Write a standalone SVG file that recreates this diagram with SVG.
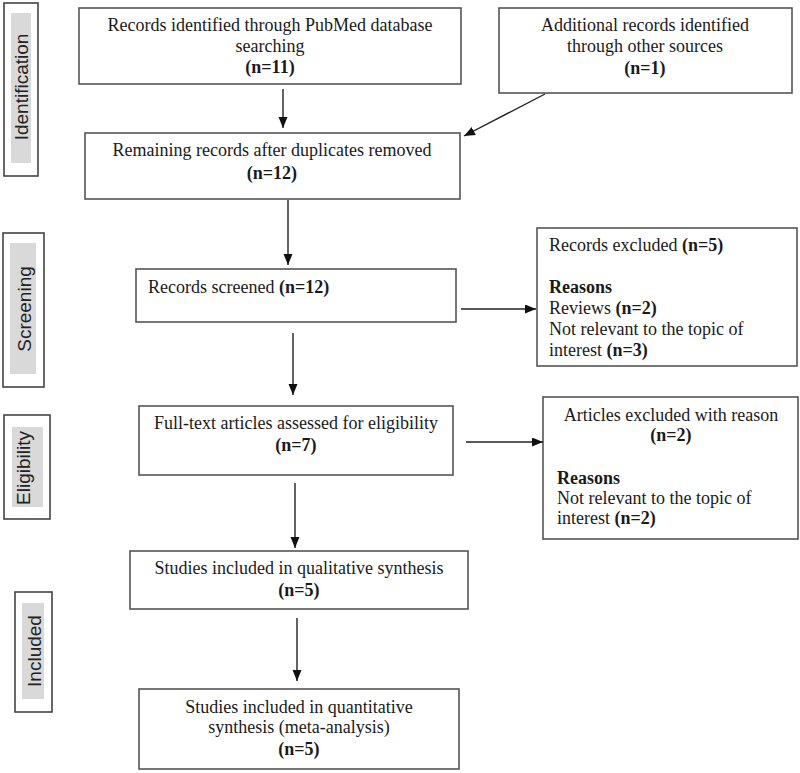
<svg xmlns="http://www.w3.org/2000/svg" width="800" height="773" viewBox="0 0 800 773">
<style>
.box{fill:#fff;stroke:#555;stroke-width:1.6}
.side{fill:#fff;stroke:#444;stroke-width:1.6}
.gray{fill:#d9d9d9;stroke:none}
.t{font-family:"Liberation Serif","Times New Roman",serif;font-size:18px;fill:#1a1a1a}
.c{text-anchor:middle}
.b{font-weight:bold}
.lab{font-family:"Liberation Sans",Arial,sans-serif;font-size:19px;fill:#222;text-anchor:middle;dominant-baseline:central}
.conn{stroke:#222;stroke-width:1.4;fill:none;marker-end:url(#ah)}
</style>
<defs>
<marker id="ah" markerUnits="userSpaceOnUse" markerWidth="12" markerHeight="10" refX="11" refY="4.5" orient="auto">
<path d="M0,0 L11,4.5 L0,9 z" fill="#111"/>
</marker>
</defs>
<rect width="800" height="773" fill="#fff"/>

<g id="label-identification">
<rect class="side" x="4" y="3" width="34" height="173"/>
<rect class="gray" x="11" y="13" width="20" height="150"/>
<text class="lab" transform="translate(21,87) rotate(-90)">Identification</text>
</g>
<g id="label-screening">
<rect class="side" x="3" y="233" width="41" height="154"/>
<rect class="gray" x="10" y="243" width="26" height="131"/>
<text class="lab" transform="translate(24,309) rotate(-90)">Screening</text>
</g>
<g id="label-eligibility">
<rect class="side" x="4" y="415" width="46" height="104"/>
<rect class="gray" x="12" y="427" width="31" height="80"/>
<text class="lab" transform="translate(23,468) rotate(-90)">Eligibility</text>
</g>
<g id="label-included">
<rect class="side" x="15" y="592" width="37" height="120"/>
<rect class="gray" x="22" y="603" width="22" height="96"/>
<text class="lab" transform="translate(34,651) rotate(-90)">Included</text>
</g>

<g id="pubmed">
<rect class="box" x="79" y="8" width="382" height="76"/>
<text class="t c" x="270" y="31">Records identified through PubMed database</text>
<text class="t c" x="270" y="52">searching</text>
<text class="t c b" x="270" y="73">(n=11)</text>
</g>
<g id="other">
<rect class="box" x="499" y="8" width="293" height="85"/>
<text class="t c" x="645" y="31">Additional records identified</text>
<text class="t c" x="645" y="52">through other sources</text>
<text class="t c b" x="645" y="74">(n=1)</text>
</g>
<g id="remaining">
<rect class="box" x="85" y="133" width="375" height="66"/>
<text class="t c" x="272" y="156">Remaining records after duplicates removed</text>
<text class="t c b" x="272" y="179">(n=12)</text>
</g>
<g id="screened">
<rect class="box" x="136" y="269" width="320" height="53"/>
<text class="t" x="148" y="293">Records screened <tspan class="b">(n=12)</tspan></text>
</g>
<g id="excluded">
<rect class="box" x="537" y="228" width="260" height="138"/>
<text class="t" x="549" y="251">Records excluded <tspan class="b">(n=5)</tspan></text>
<text class="t b" x="549" y="293">Reasons</text>
<text class="t" x="549" y="314">Reviews <tspan class="b">(n=2)</tspan></text>
<text class="t" x="549" y="335">Not relevant to the topic of</text>
<text class="t" x="549" y="356">interest <tspan class="b">(n=3)</tspan></text>
</g>
<g id="fulltext">
<rect class="box" x="139" y="406" width="314" height="69"/>
<text class="t c" x="296" y="429">Full-text articles assessed for eligibility</text>
<text class="t c b" x="296" y="451">(n=7)</text>
</g>
<g id="articles-excluded">
<rect class="box" x="543" y="397" width="255" height="142"/>
<text class="t c" x="671" y="421">Articles excluded with reason</text>
<text class="t c b" x="671" y="441">(n=2)</text>
<text class="t b" x="557" y="484">Reasons</text>
<text class="t" x="557" y="504">Not relevant to the topic of</text>
<text class="t" x="557" y="524">interest <tspan class="b">(n=2)</tspan></text>
</g>
<g id="qualitative">
<rect class="box" x="130" y="551" width="338" height="58"/>
<text class="t c" x="299" y="574">Studies included in qualitative synthesis</text>
<text class="t c b" x="299" y="596">(n=5)</text>
</g>
<g id="quantitative">
<rect class="box" x="139" y="689" width="320" height="80"/>
<text class="t c" x="299" y="713">Studies included in quantitative</text>
<text class="t c" x="299" y="733">synthesis (meta-analysis)</text>
<text class="t c b" x="299" y="755">(n=5)</text>
</g>

<g id="connectors">
<line class="conn" x1="283" y1="89" x2="283" y2="128"/>
<line class="conn" x1="545" y1="94" x2="464" y2="136"/>
<line class="conn" x1="288" y1="200" x2="288" y2="265"/>
<line class="conn" x1="461" y1="309" x2="536" y2="309"/>
<line class="conn" x1="293" y1="333" x2="293" y2="395"/>
<line class="conn" x1="466" y1="442" x2="543" y2="442"/>
<line class="conn" x1="295" y1="483" x2="295" y2="548"/>
<line class="conn" x1="297" y1="618" x2="297" y2="681"/>
</g>
</svg>
